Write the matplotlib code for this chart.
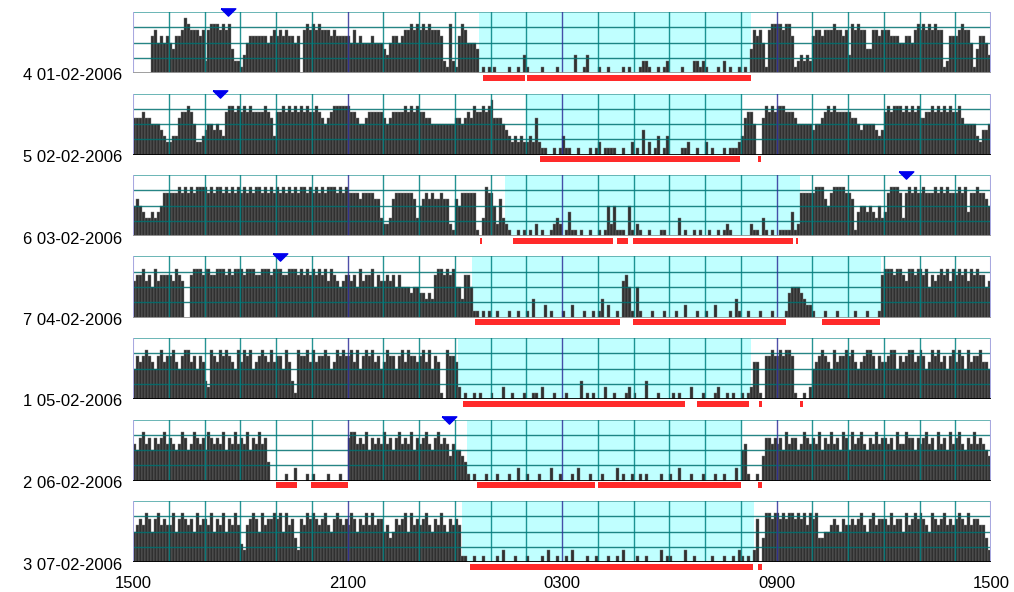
import matplotlib.pyplot as plt
import numpy as np
from matplotlib.patches import Rectangle

plt.rcParams['font.family'] = ['Liberation Sans', 'DejaVu Sans']

# one string per hour (1500 -> 1500), one digit per 5 minutes, digit = activity level
labels = ['4 01-02-2006', '5 02-02-2006', '6 03-02-2006', '7 04-02-2006',
          '1 05-02-2006', '2 06-02-2006', '3 07-02-2006']

day1 = ["000000675656", "546679877767", "278887878422", "135666666567",
        "676766560787", "878777676666", "657565556555", "435665677878",
        "787877762182", "168755540101", "010000100103", "100001000010",
        "000030013000", "100100001010", "001221001012", "000010002212",
        "100010201001", "010476751788", "887886123232", "677677787767",
        "387877447767", "776665566578", "787878771266", "678775146653"]
day2 = ["666766555432", "233677875223", "455454378878", "787877778763",
        "778787878787", "787656788888", "877655677777", "656777787878",
        "776655555555", "665676877878", "966654323232", "232621100101",
        "311001000101", "201111001002", "010402013013", "000011200100",
        "201000101112", "367750068787", "888777655555", "455678787777",
        "766545555434", "787888787878", "667787878787", "786555532445"]
day3 = ["565433434577", "777878787888", "878788787878", "787878878787",
        "878787878878", "787878887878", "777767777663", "223677777763",
        "567676676621", "657777710387", "752632100101", "010201001232",
        "014110100100", "101525111051", "021001000110", "000301001010",
        "010010121000", "000211031010", "011114127777", "788865788887",
        "761455454353", "478887378787", "787778787877", "787847787765"]
day4 = ["677867586777", "768760078887", "887788878788", "878887788878",
        "887788878787", "878786876567", "767586778576", "676757555455",
        "443437887878", "553775110101", "001000100100", "103000201000",
        "100200010010", "130200106751", "051000100010", "001002000100",
        "100200001031", "001000100010", "000145554322", "100010001000",
        "001000100017", "888788768878", "878576787868", "787868787756"]
day5 = ["576787657867", "786578867576", "328768787658", "687856787686",
        "775863187786", "867787568787", "786857878675", "687757868776",
        "786857610877", "620100101000", "100020010001", "001102000100",
        "010000301010", "002001000120", "100030001000", "010100020001",
        "000120010100", "101266107787", "787887100102", "567876586778",
        "786567887576", "678857678867", "875687867578", "687586778665"]
day6 = ["657867576786", "765687568767", "587676857686", "768576867300",
        "000100200010", "100001000100", "788676857676", "867578676857",
        "678657867646", "554310100010", "001000100200", "100010002001",
        "000102000100", "010000201001", "001010000100", "100200010001",
        "000100100020", "561001047767", "675867756876", "768576867587",
        "586786576867", "767586687757", "678675867586", "786576867654"]
day7 = ["567687578676", "685787675867", "768576857686", "326787586778",
        "785867427687", "876786578767", "687576868677", "564576785867",
        "678657686576", "761100100100", "001020001000", "100001020010",
        "010200001001", "000100102000", "010010000201", "100002001000",
        "001000100102", "101027048878", "878788787868", "784455676576",
        "676786578677", "768677586787", "876587678676", "787686776642"]
days = [day1, day2, day3, day4, day5, day6, day7]

# hours after 1500
sleep_shade = [(9.68, 17.29), (11.0, 17.03), (10.41, 18.67), (9.48, 20.92),
               (9.09, 17.29), (9.34, 17.0), (9.2, 17.37)]
sleep_marks = [
    [(9.79, 10.97), (11.01, 17.28)],
    [(11.38, 16.98), (17.48, 17.56)],
    [(9.70, 9.76), (10.62, 13.42), (13.55, 13.85), (13.98, 18.47), (18.55, 18.61)],
    [(9.57, 13.62), (13.98, 18.27), (19.27, 20.9)],
    [(9.23, 15.44), (15.77, 17.24), (17.5, 17.6), (18.65, 18.75)],
    [(4.0, 4.6), (4.98, 6.0), (9.62, 12.92), (13.0, 17.0), (17.48, 17.6)],
    [(9.43, 17.34), (17.48, 17.6)],
]
event_marks = [2.65, 2.42, 21.62, 4.11, None, 8.84, None]
gray_base = [True, False, True, True, False, False, False]
tick_pos = [0, 6, 12, 18, 24]
tick_labels = ['1500', '2100', '0300', '0900', '1500']

W, H = 1014, 592
fig = plt.figure(figsize=(W / 100, H / 100), dpi=100)
left, right = 133, 991
tri = [(-1, 0.5), (1, 0.5), (0, -0.5), (-1, 0.5)]

for i, day in enumerate(days):
    base = 73 + 81.5 * i
    ax = fig.add_axes([left / W, 1 - base / H, (right - left) / W, 61 / H])
    vals = np.array([int(c) for c in ''.join(day)]) * 0.4
    x = np.arange(len(vals)) / 12
    ax.axvspan(*sleep_shade[i], color='#c0ffff', lw=0, zorder=0)
    ax.bar(x, vals, width=1 / 12, align='edge', color='#303030',
           edgecolor='#7a7a7a', lw=0.3, zorder=1)
    for y in (1, 2, 3):
        ax.axhline(y, color='#007070', lw=1, alpha=0.85, zorder=3)
    ax.axhline(4, color='#5fb0b0', lw=1.3, zorder=3)
    for hr in range(1, 24):
        c = '#30309a' if hr % 6 == 0 else '#008080'
        ax.axvline(hr, color=c, lw=1, alpha=0.85, zorder=3)
    for hr in (0, 24):
        ax.axvline(hr, color='#a8a8e0', lw=1.5, zorder=3)
    ax.axhline(0, color='#9a9a9a' if gray_base[i] else '#000000', lw=2, zorder=4)
    for a, b in sleep_marks[i]:
        ax.add_patch(Rectangle((a, -0.52), b - a, 0.42, color='#ff2a2a', lw=0,
                               clip_on=False))
    if event_marks[i] is not None:
        ax.plot(event_marks[i], 3.97, marker=tri, ms=10.5, color='#0000ee',
                clip_on=False, zorder=5)
    ax.set_xlim(0, 24)
    ax.set_ylim(0, 4)
    for s in ax.spines.values():
        s.set_visible(False)
    ax.set_yticks([])
    if i == len(days) - 1:
        ax.set_xticks(tick_pos, tick_labels, fontsize=12)
        ax.tick_params(axis='x', length=0, pad=10)
    else:
        ax.set_xticks([])
    fig.text(122 / W, 1 - (base + 7.5) / H, labels[i], ha='right', va='baseline',
             fontsize=12)

fig.savefig('out.png', dpi=100)
